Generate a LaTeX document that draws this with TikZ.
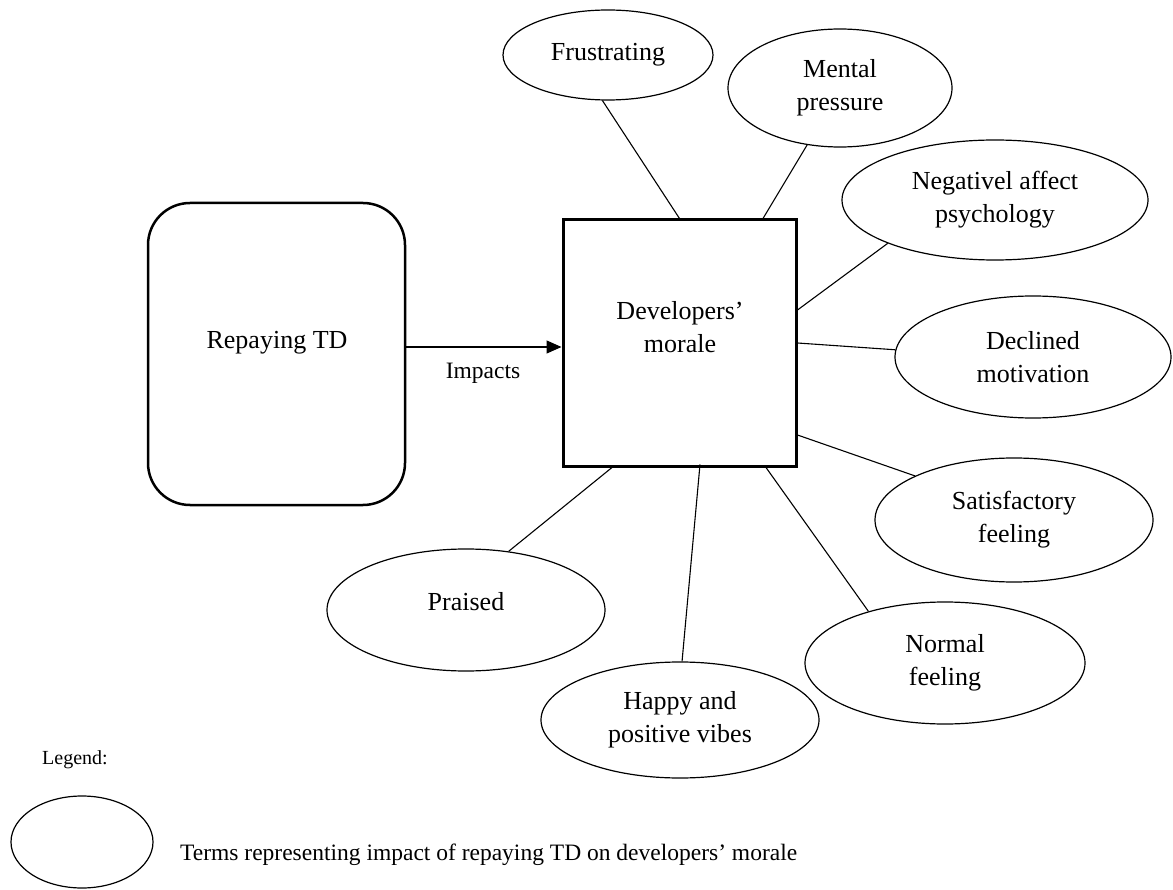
\documentclass[tikz,border=0pt]{standalone}
\usepackage{fontspec}
\setmainfont{Liberation Serif}
\usetikzlibrary{shapes.geometric,arrows.meta}
\begin{document}
\begin{tikzpicture}[x=1pt,y=-1pt,
  term/.style={draw, ellipse, line width=1.2pt, inner sep=0pt, align=center,
               font=\fontsize{26}{33}\selectfont},
  link/.style={line width=1.1pt},
  lbl/.style={font=\fontsize{26}{33}\selectfont, align=center, inner sep=0pt},
  small/.style={font=\fontsize{23.5}{28}\selectfont, inner sep=0pt}]
\useasboundingbox (0,0) rectangle (1173,890);

% cause and effect boxes
\node[draw, rounded corners=42pt, line width=2.5pt,
      minimum width=257pt, minimum height=302pt] (td) at (276.5,354) {};
\node[lbl] (tdtext) at (277,343) {Repaying TD};
\node[draw, line width=3pt, minimum width=233pt, minimum height=246pt] (dm) at (679.5,343) {};
\node[lbl] (dmtext) at (680,327) {Developers’\\morale};

\draw[line width=1.3pt, -{Triangle[length=15pt,width=13pt]}]
  ([yshift=7pt]td.east) -- ([yshift=-4pt]dm.west);
\node[small] (impacts) at (483,373) {Impacts};

% impact terms
\node[term, minimum width=210pt, minimum height=90pt]  (fr) at (608,55)  {Frustrating};
\node[term, minimum width=224pt, minimum height=118pt] (mp) at (840,88)  {Mental\\pressure};
\node[term, minimum width=306pt, minimum height=120pt] (na) at (995,200) {Negativel affect\\psychology};
\node[term, minimum width=276pt, minimum height=122pt] (dc) at (1033,357) {Declined\\motivation};
\node[term, minimum width=278pt, minimum height=124pt] (sf) at (1014,520) {Satisfactory\\feeling};
\node[term, minimum width=280pt, minimum height=122pt] (nf) at (945,663) {Normal\\feeling};
\node[term, minimum width=278pt, minimum height=116pt] (hp) at (680,720) {Happy and\\positive vibes};
\node[term, minimum width=278pt, minimum height=122pt, text depth=18pt] (pr) at (466,610) {Praised};

% spokes from the morale box
\draw[link] (fr.-97)  -- (dm.north);
\draw[link] (mp.-120) -- ([xshift=83.5pt]dm.north);
\draw[link] (na.202)  -- ([yshift=33pt]dm.east);
\draw[link] (dc.177)  -- (dm.east);
\draw[link] (sf.156)  -- ([yshift=-92pt]dm.east);
\draw[link] (nf.146)  -- ([xshift=86.5pt]dm.south);
\draw[link] (hp.88)   -- ([xshift=20.5pt,yshift=3pt]dm.south);
\draw[link] (pr.54)   -- ([xshift=-67.5pt]dm.south);

% legend
\node[font=\fontsize{20}{24}\selectfont, inner sep=0pt] (lgtitle) at (75,760) {Legend:};
\node[draw, ellipse, line width=1.2pt, minimum width=142pt, minimum height=92pt] (lg) at (82,842) {};
\node[small, anchor=west] (lgtext) at (180,855) {Terms representing impact of repaying TD on developers’ morale};
\end{tikzpicture}
\end{document}
